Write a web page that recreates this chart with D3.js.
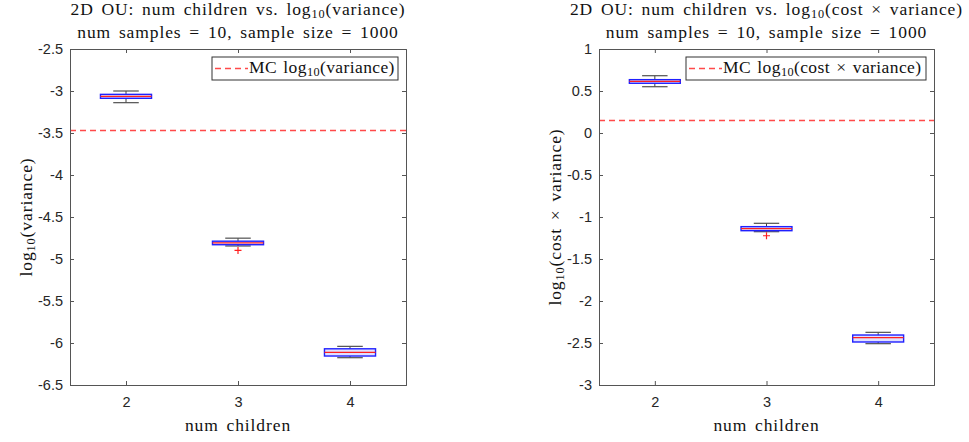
<!DOCTYPE html>
<html>
<head>
<meta charset="utf-8">
<script src="https://cdn.jsdelivr.net/npm/d3@7"></script>
<style>
  html, body { margin: 0; padding: 0; background: #fff; }
  svg { display: block; }
  .serif { font-family: "Liberation Serif", "DejaVu Serif", serif; }
  .sans { font-family: "Liberation Sans", Arial, sans-serif; }
</style>
</head>
<body>
<svg id="chart" width="969" height="442"></svg>
<script>
// Number of children per node (x categories)
const numChildren = [2, 3, 4];

// log10(variance) box statistics per category
const varLowerWhisker = [-3.139, -4.845, -6.175];
const varQ1           = [-3.087, -4.830, -6.155];
const varMedian       = [-3.065, -4.807, -6.111];
const varQ3           = [-3.040, -4.788, -6.069];
const varUpperWhisker = [-3.000, -4.752, -6.040];
const varOutliers     = [[], [-4.898], []];
const varMC = -3.46;
const varTicks = [-6.5, -6, -5.5, -5, -4.5, -4, -3.5, -3, -2.5];

// log10(cost x variance) box statistics per category
const costLowerWhisker = [0.551, -1.175, -2.508];
const costQ1           = [0.592, -1.163, -2.488];
const costMedian       = [0.615, -1.139, -2.437];
const costQ3           = [0.635, -1.115, -2.405];
const costUpperWhisker = [0.682, -1.075, -2.373];
const costOutliers     = [[], [-1.223], []];
const costMC = 0.16;
const costTicks = [-3, -2.5, -2, -1.5, -1, -0.5, 0, 0.5, 1];

const svg = d3.select("#chart");

const FONT = 17.5, LS = 0.9, WS = 2.5;

// Writes text with an optional "log_10" style subscript segment
function richText(sel, parts) {
  sel.attr("class", "serif").attr("font-size", FONT).attr("fill", "#111")
    .attr("letter-spacing", LS).attr("word-spacing", WS);
  parts.forEach((p, i) => {
    const ts = sel.append("tspan").text(p.t);
    if (p.sub) {
      ts.attr("font-size", "0.7em").attr("dy", "0.22em");
    } else if (i > 0 && parts[i - 1].sub) {
      ts.attr("dy", "-0.154em");
    }
  });
  return sel;
}

function panel(opts) {
  const { left, right, top, bottom } = opts;
  const g = svg.append("g");
  const x = d3.scaleLinear().domain([1.5, 4.5]).range([left, right]);
  const y = d3.scaleLinear().domain(opts.yDomain).range([bottom, top]);
  const axisColor = "#555";
  const tickLen = 4;

  // MC reference line
  const my = Math.round(y(opts.mc)) + 0.5;
  g.append("line")
    .attr("x1", left).attr("x2", right)
    .attr("y1", my).attr("y2", my)
    .attr("stroke", "#ff4a4a").attr("stroke-width", 1.5)
    .attr("stroke-dasharray", "6,4");

  // Box plots
  const halfW = (x(1) - x(0)) * 0.228;
  const capHalf = halfW / 2;
  numChildren.forEach((c, i) => {
    const cx = x(c);
    const bg = g.append("g");
    // whiskers
    [[opts.q3[i], opts.upper[i]], [opts.q1[i], opts.lower[i]]].forEach(([a, b]) => {
      bg.append("line").attr("x1", cx).attr("x2", cx)
        .attr("y1", y(a)).attr("y2", y(b))
        .attr("stroke", "#404040").attr("stroke-width", 1);
      bg.append("line").attr("x1", cx - capHalf).attr("x2", cx + capHalf)
        .attr("y1", y(b)).attr("y2", y(b))
        .attr("stroke", "#505050").attr("stroke-width", 1.2);
    });
    // box
    bg.append("rect")
      .attr("x", cx - halfW).attr("width", 2 * halfW)
      .attr("y", y(opts.q3[i])).attr("height", y(opts.q1[i]) - y(opts.q3[i]))
      .attr("fill", "rgba(90,90,255,0.18)")
      .attr("stroke", "#2020ff").attr("stroke-width", 1.4);
    // median
    bg.append("line").attr("x1", cx - halfW).attr("x2", cx + halfW)
      .attr("y1", y(opts.median[i])).attr("y2", y(opts.median[i]))
      .attr("stroke", "#ff2020").attr("stroke-width", 1.3);
    // outliers
    opts.outliers[i].forEach(v => {
      const oy = y(v), s = 3.5;
      bg.append("path")
        .attr("d", `M${cx - s},${oy}H${cx + s}M${cx},${oy - s}V${oy + s}`)
        .attr("stroke", "#ff2020").attr("stroke-width", 1.2).attr("fill", "none");
    });
  });

  // Axes: ticks inward on all four sides
  const yAxisL = d3.axisLeft(y).tickValues(opts.yTicks).tickSize(-tickLen).tickPadding(7)
    .tickFormat(d => String(d));
  const yAxisR = d3.axisRight(y).tickValues(opts.yTicks).tickSize(-tickLen).tickFormat("");
  const xAxisB = d3.axisBottom(x).tickValues(numChildren).tickSize(-tickLen).tickPadding(12)
    .tickFormat(d => String(d));
  const xAxisT = d3.axisTop(x).tickValues(numChildren).tickSize(-tickLen).tickFormat("");

  const axes = [
    g.append("g").attr("transform", `translate(${left},0)`).call(yAxisL),
    g.append("g").attr("transform", `translate(${right},0)`).call(yAxisR),
    g.append("g").attr("transform", `translate(0,${bottom})`).call(xAxisB),
    g.append("g").attr("transform", `translate(0,${top})`).call(xAxisT)
  ];
  axes.forEach(a => {
    a.select(".domain").attr("stroke", axisColor);
    a.selectAll(".tick line").attr("stroke", axisColor);
    a.selectAll(".tick text")
      .attr("class", "sans").attr("font-size", 14.5).attr("fill", "#262626");
  });

  // Titles
  const cx = (left + right) / 2;
  richText(g.append("text").attr("x", cx).attr("y", 15).attr("text-anchor", "middle"),
    opts.title);
  richText(g.append("text").attr("x", cx).attr("y", 38).attr("text-anchor", "middle"),
    [{ t: "num samples = 10, sample size = 1000" }]);

  // Axis labels
  richText(g.append("text").attr("x", cx).attr("y", 431).attr("text-anchor", "middle"),
    [{ t: "num children" }]);
  richText(g.append("text")
    .attr("transform", `translate(${left - 38},${(top + bottom) / 2}) rotate(-90)`)
    .attr("text-anchor", "middle"), opts.yLabel);

  // Legend
  const lg = g.append("g");
  lg.append("rect")
    .attr("x", opts.legend[0]).attr("y", top + 8)
    .attr("width", right - 8 - opts.legend[0]).attr("height", 23)
    .attr("fill", "#fff").attr("stroke", "#333").attr("stroke-width", 1);
  lg.append("line")
    .attr("x1", opts.legend[0] + 3).attr("x2", opts.legend[0] + 36)
    .attr("y1", top + 19.5).attr("y2", top + 19.5)
    .attr("stroke", "#ff4a4a").attr("stroke-width", 1.5).attr("stroke-dasharray", "6,4");
  richText(lg.append("text").attr("x", opts.legend[0] + 37).attr("y", top + 24),
    opts.legendText).attr("letter-spacing", 0.4).attr("word-spacing", 1.5);
}

panel({
  left: 70, right: 406, top: 49, bottom: 385,
  yDomain: [-6.5, -2.5], yTicks: varTicks, mc: varMC,
  lower: varLowerWhisker, q1: varQ1, median: varMedian, q3: varQ3,
  upper: varUpperWhisker, outliers: varOutliers,
  title: [{ t: "2D OU: num children vs. log" }, { t: "10", sub: true }, { t: "(variance)" }],
  yLabel: [{ t: "log" }, { t: "10", sub: true }, { t: "(variance)" }],
  legendText: [{ t: "MC log" }, { t: "10", sub: true }, { t: "(variance)" }],
  legend: [212]
});

panel({
  left: 599, right: 934, top: 49, bottom: 385,
  yDomain: [-3, 1], yTicks: costTicks, mc: costMC,
  lower: costLowerWhisker, q1: costQ1, median: costMedian, q3: costQ3,
  upper: costUpperWhisker, outliers: costOutliers,
  title: [{ t: "2D OU: num children vs. log" }, { t: "10", sub: true }, { t: "(cost × variance)" }],
  yLabel: [{ t: "log" }, { t: "10", sub: true }, { t: "(cost × variance)" }],
  legendText: [{ t: "MC log" }, { t: "10", sub: true }, { t: "(cost × variance)" }],
  legend: [686]
});
</script>
</body>
</html>
